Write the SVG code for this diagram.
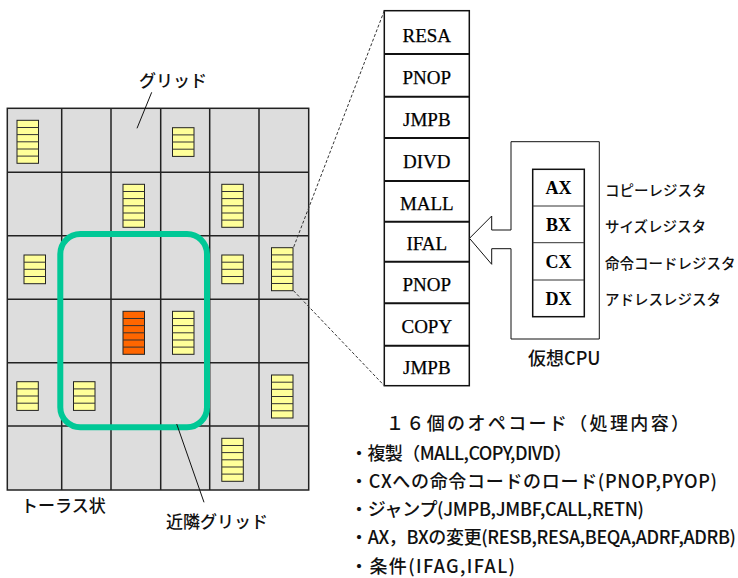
<svg xmlns="http://www.w3.org/2000/svg" xmlns:xlink="http://www.w3.org/1999/xlink" width="738" height="578" viewBox="0 0 738 578">
<style>
.jp{font-family:"Noto Sans CJK JP","Noto Sans",sans-serif;font-weight:500;fill:#111}
.op{font-family:"Liberation Serif","Times New Roman",serif;font-size:19px;fill:#000;text-anchor:middle;stroke:#000;stroke-width:0.25}
.reg{font-family:"Liberation Serif","Times New Roman",serif;font-size:18px;font-weight:bold;fill:#000;text-anchor:middle}
.gl{stroke:#222;stroke-width:1.5;fill:none}
.box{fill:#fff;stroke:#111;stroke-width:1.5}
.div{stroke:#111;stroke-width:2}
.dash{stroke:#333;stroke-width:1;stroke-dasharray:3 2;fill:none}
.lead{stroke:#111;stroke-width:1;fill:none}
.stripe{stroke:#333;stroke-width:1}
</style>
<defs>
<g id="s6y">
<rect x="0" y="0" width="21.5" height="43" fill="#FFFF99" stroke="#222" stroke-width="1"/>
<path class="stripe" d="M0 7.2H21.5M0 14.3H21.5M0 21.5H21.5M0 28.7H21.5M0 35.8H21.5"/>
</g>
<g id="s6o">
<rect x="0" y="0" width="21.5" height="43" fill="#FF6600" stroke="#222" stroke-width="1"/>
<path class="stripe" d="M0 7.2H21.5M0 14.3H21.5M0 21.5H21.5M0 28.7H21.5M0 35.8H21.5"/>
</g>
<g id="s4y">
<rect x="0" y="0" width="21.5" height="28.7" fill="#FFFF99" stroke="#222" stroke-width="1"/>
<path class="stripe" d="M0 7.2H21.5M0 14.3H21.5M0 21.5H21.5"/>
</g>
</defs>

<g id="grid">
<rect x="7.3" y="108.3" width="301.4" height="381.7" fill="#DDDDDD" stroke="#222" stroke-width="1.5"/>
<path class="gl" d="M61.7 108.3V490M111 108.3V490M160.7 108.3V490M209.7 108.3V490M259 108.3V490M7.3 172.3H308.7M7.3 235.7H308.7M7.3 299.3H308.7M7.3 362.7H308.7M7.3 426H308.7"/>
</g>

<g id="programs">
<use xlink:href="#s6y" x="17" y="120.3"/>
<use xlink:href="#s4y" x="172.5" y="127.7"/>
<use xlink:href="#s6y" x="123" y="184.3"/>
<use xlink:href="#s6y" x="221.8" y="184.3"/>
<use xlink:href="#s4y" x="24" y="255"/>
<use xlink:href="#s4y" x="221.8" y="255"/>
<use xlink:href="#s6y" x="271.5" y="247.7"/>
<use xlink:href="#s6o" x="123" y="311.3"/>
<use xlink:href="#s6y" x="172.5" y="311.3"/>
<use xlink:href="#s4y" x="16.8" y="381.7"/>
<use xlink:href="#s4y" x="73.5" y="381.7"/>
<use xlink:href="#s6y" x="271.5" y="375"/>
<use xlink:href="#s6y" x="221.8" y="438.3"/>
</g>

<g id="neighbourhood">
<rect x="60.3" y="234" width="146.7" height="193.3" rx="20" ry="20" fill="none" stroke="#00C896" stroke-width="6"/>
</g>

<g id="opcode-stack">
<rect class="box" x="384.3" y="10.7" width="85" height="375"/>
<path class="div" d="M384.3 54H469.3M384.3 96.7H469.3M384.3 138H469.3M384.3 181H469.3M384.3 221.7H469.3M384.3 261.7H469.3M384.3 303.3H469.3M384.3 345.7H469.3"/>
<text class="op" x="426.8" y="41.5">RESA</text>
<text class="op" x="426.8" y="84">PNOP</text>
<text class="op" x="426.8" y="126">JMPB</text>
<text class="op" x="426.8" y="168">DIVD</text>
<text class="op" x="426.8" y="210">MALL</text>
<text class="op" x="426.8" y="250">IFAL</text>
<text class="op" x="426.8" y="291">PNOP</text>
<text class="op" x="426.8" y="333">COPY</text>
<text class="op" x="426.8" y="374">JMPB</text>
</g>

<g id="cpu">
<path d="M511 141.7H599.3V339H511V248.7H491.7V264.3L469.5 238.3L491.7 216V230H511Z" fill="#fff" stroke="#111" stroke-width="1"/>
<rect class="box" x="532.7" y="169.3" width="51.6" height="147.4" stroke-width="1.2"/>
<path class="stripe" stroke-width="1.5" d="M532.7 206H584.3M532.7 242.7H584.3M532.7 280H584.3"/>
<text class="reg" x="558.5" y="193.5">AX</text>
<text class="reg" x="558.5" y="230.5">BX</text>
<text class="reg" x="558.5" y="267.5">CX</text>
<text class="reg" x="558.5" y="304.5">DX</text>
<text class="jp" x="528" y="365" font-size="18">仮想CPU</text>
</g>

<g id="register-labels" class="jp" font-size="14.5">
<text x="605" y="196">コピーレジスタ</text>
<text x="605" y="232">サイズレジスタ</text>
<text x="605" y="268.5">命令コードレジスタ</text>
<text x="605" y="304.5">アドレスレジスタ</text>
</g>

<g id="labels" class="jp" font-size="17">
<text x="139" y="86.5">グリッド</text>
<text x="21" y="511.5">トーラス状</text>
<text x="166" y="527.5">近隣グリッド</text>
</g>

<g id="opcode-list" class="jp" font-size="18">
<text x="386" y="430" textLength="303" lengthAdjust="spacing">１６個のオペコード（処理内容）</text>
<text x="350" y="459.5" textLength="222" lengthAdjust="spacing">・複製（MALL,COPY,DIVD）</text>
<text x="350" y="488" textLength="367" lengthAdjust="spacing">・CXへの命令コードのロード(PNOP,PYOP)</text>
<text x="350" y="516" textLength="294" lengthAdjust="spacing">・ジャンプ(JMPB,JMBF,CALL,RETN)</text>
<text x="350" y="544" textLength="386" lengthAdjust="spacing">・AX，BXの変更(RESB,RESA,BEQA,ADRF,ADRB)</text>
<text x="350" y="572.5" textLength="165" lengthAdjust="spacing">・条件(IFAG,IFAL)</text>
</g>

<g id="connectors">
<path class="dash" d="M384.3 10.7L293.5 247.5"/>
<path class="dash" d="M293.5 290.7L384.3 385.7"/>
<path class="lead" d="M151.7 92.3L137 128.3"/>
<path class="lead" d="M176.7 424L204 502.3"/>
</g>
</svg>
